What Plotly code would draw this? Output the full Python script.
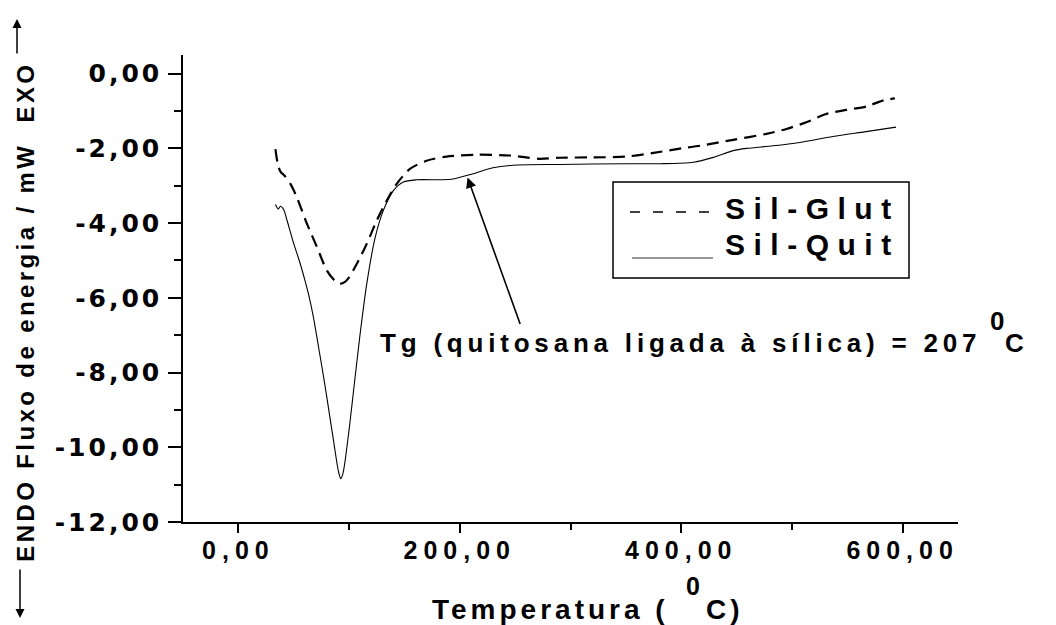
import plotly.graph_objects as go

# DSC curves: temperature (°C) vs heat flow (mW)
glut_temp = [33.5, 35.5, 38, 42, 47, 52, 56, 62, 71, 80, 87.5, 92, 96, 100, 107, 116, 125,
             134, 143, 155, 170, 188, 215, 245, 260, 272, 290, 320, 350, 375, 400, 417,
             447, 477, 495, 513, 531, 549, 567, 582, 593]
glut_flux = [-2.02, -2.40, -2.62, -2.74, -2.95, -3.25, -3.55, -4.02, -4.64, -5.27, -5.55,
             -5.62, -5.58, -5.45, -5.09, -4.55, -3.93, -3.40, -2.95, -2.55, -2.33, -2.22,
             -2.17, -2.19, -2.24, -2.28, -2.25, -2.24, -2.22, -2.12, -2.00, -1.93, -1.77,
             -1.61, -1.48, -1.30, -1.08, -0.97, -0.88, -0.72, -0.66]

quit_temp = [33.5, 36, 38, 41, 44, 50, 55, 60, 64, 68, 72.5, 77, 80, 86, 90.5, 92.5, 94.5,
             99.6, 104, 110, 116, 123.6, 131, 140, 149, 161, 182, 194, 212, 230, 248, 290,
             350, 381, 411, 429, 447, 459, 483, 507, 537, 567, 594]
quit_flux = [-3.50, -3.62, -3.55, -3.64, -3.93, -4.55, -5.00, -5.52, -5.98, -6.55, -7.33,
             -8.12, -8.68, -9.83, -10.66, -10.84, -10.70, -9.63, -8.50, -6.96, -5.62, -4.38,
             -3.66, -3.13, -2.90, -2.84, -2.84, -2.82, -2.68, -2.52, -2.45, -2.43, -2.41,
             -2.41, -2.37, -2.24, -2.06, -2.00, -1.93, -1.84, -1.68, -1.55, -1.43]

series_names = ["Sil-Glut", "Sil-Quit"]

x_tick_vals = [0, 200, 400, 600]
x_tick_text = ["0,00", "200,00", "400,00", "600,00"]
x_minor_vals = [100, 300, 500]
y_tick_vals = [0, -2, -4, -6, -8, -10, -12]
y_tick_text = ["0,00", "-2,00", "-4,00", "-6,00", "-8,00", "-10,00", "-12,00"]
y_minor_vals = [-1, -3, -5, -7, -9, -11]

tg_value = 207          # glass transition marked on the Sil-Quit curve
tg_flux = -2.78
tg_label_temp, tg_label_flux = 255, -6.74

W, H = 1056, 625
ML, MR, MT, MB = 183, 98, 55, 103
PW, PH = W - ML - MR, H - MT - MB
FONT = "Liberation Sans, Arial, sans-serif"


def px(x):
    return (x - ML) / PW


def py(y):
    return (H - MB - y) / PH


fig = go.Figure()
fig.add_trace(go.Scatter(x=glut_temp, y=glut_flux, mode="lines", name=series_names[0],
                         line=dict(color="black", width=2.2, dash="12px,7px", shape="spline",
                                   smoothing=0.8)))
fig.add_trace(go.Scatter(x=quit_temp, y=quit_flux, mode="lines", name=series_names[1],
                         line=dict(color="black", width=1.1, shape="spline", smoothing=0.8)))

annotations = []
spacing = []


def add_text(text, x, y, size, ls, **kw):
    xa = kw.pop("xanchor", "left")
    annotations.append(dict(text=text, x=x, y=y, xref="paper", yref="paper",
                            showarrow=False, xanchor=xa, align=xa,
                            yanchor="middle",
                            font=dict(family=FONT, size=size, color="black", weight="bold"),
                            **kw))
    spacing.append(ls)


add_text("ENDO Fluxo de energia / mW  EXO", px(26), py(312), 24, 3.4,
         xanchor="center", textangle=-90)
add_text("Temperatura (", px(430), py(609), 28, 4)
add_text("0", px(684), py(586), 25, 0)
add_text("C)", px(704), py(609), 28, 4)
add_text("Tg (quitosana ligada à sílica) = 207", px(378), py(343), 26, 4.8)
add_text("0", px(988), py(321), 26, 0)
add_text("C", px(1003), py(343), 26, 0)
add_text(series_names[0], px(723), py(208), 30, 8.5)
add_text(series_names[1], px(723), py(245), 30, 8.5)

# arrow pointing to the glass transition
annotations.append(dict(text="", x=tg_value, y=tg_flux, xref="x", yref="y",
                        ax=tg_label_temp, ay=tg_label_flux, axref="x", ayref="y",
                        showarrow=True, arrowhead=2, arrowsize=1.3, arrowwidth=1.6,
                        arrowcolor="black", standoff=0))
# EXO / ENDO direction arrows beside the y title
annotations.append(dict(text="", x=px(17), y=py(19), xref="paper", yref="paper",
                        ax=0, ay=36, showarrow=True, arrowhead=2, arrowsize=1.2,
                        arrowwidth=1.5, arrowcolor="black", standoff=0))
annotations.append(dict(text="", x=px(20), y=py(618), xref="paper", yref="paper",
                        ax=0, ay=-50, showarrow=True, arrowhead=2, arrowsize=1.2,
                        arrowwidth=1.5, arrowcolor="black", standoff=0))

shapes = [
    dict(type="rect", xref="paper", yref="paper", x0=px(613), x1=px(909),
         y0=py(278), y1=py(182), line=dict(color="black", width=1.5)),
    dict(type="line", xref="paper", yref="paper", x0=px(630), x1=px(710),
         y0=py(212), y1=py(212), line=dict(color="black", width=1.6, dash="10px,13px")),
    dict(type="line", xref="paper", yref="paper", x0=px(632), x1=px(713),
         y0=py(258), y1=py(258), line=dict(color="#333333", width=1)),
]

fig.update_layout(
    width=W, height=H, autosize=False,
    margin=dict(l=ML, r=MR, t=MT, b=MB, pad=0),
    paper_bgcolor="white", plot_bgcolor="white",
    showlegend=False,
    annotations=annotations, shapes=shapes,
)
fig.update_xaxes(range=[-50, 650], showgrid=False, zeroline=False,
                 showline=True, linecolor="black", linewidth=1.6,
                 ticks="outside", ticklen=9, tickwidth=1.6, tickcolor="black",
                 tickmode="array", tickvals=x_tick_vals, ticktext=x_tick_text,
                 ticklabelstandoff=-4,
                 tickfont=dict(family=FONT, size=25, color="black", weight="bold"),
                 minor=dict(tickmode="array", tickvals=x_minor_vals, ticks="outside",
                            ticklen=6, tickwidth=1.6, tickcolor="black"))
fig.update_yaxes(range=[-12, 0.5], showgrid=False, zeroline=False,
                 showline=True, linecolor="black", linewidth=1.6,
                 ticks="outside", ticklen=13, tickwidth=1.6, tickcolor="black",
                 tickmode="array", tickvals=y_tick_vals, ticktext=y_tick_text,
                 ticklabelstandoff=1,
                 tickfont=dict(family="DejaVu Sans", size=25, color="black", weight="bold"),
                 minor=dict(tickmode="array", tickvals=y_minor_vals, ticks="outside",
                            ticklen=7, tickwidth=1.6, tickcolor="black"))

css = ".xtick text{letter-spacing:6px}.ytick text{letter-spacing:3px}"
for i, s in enumerate(spacing):
    css += 'g.annotation[data-index="%d"] text{letter-spacing:%gpx}' % (i, s)
post = ("var st=document.createElement('style');st.textContent='%s';"
        "document.head.appendChild(st);" % css)

fig.write_html("out.html", post_script=post)
